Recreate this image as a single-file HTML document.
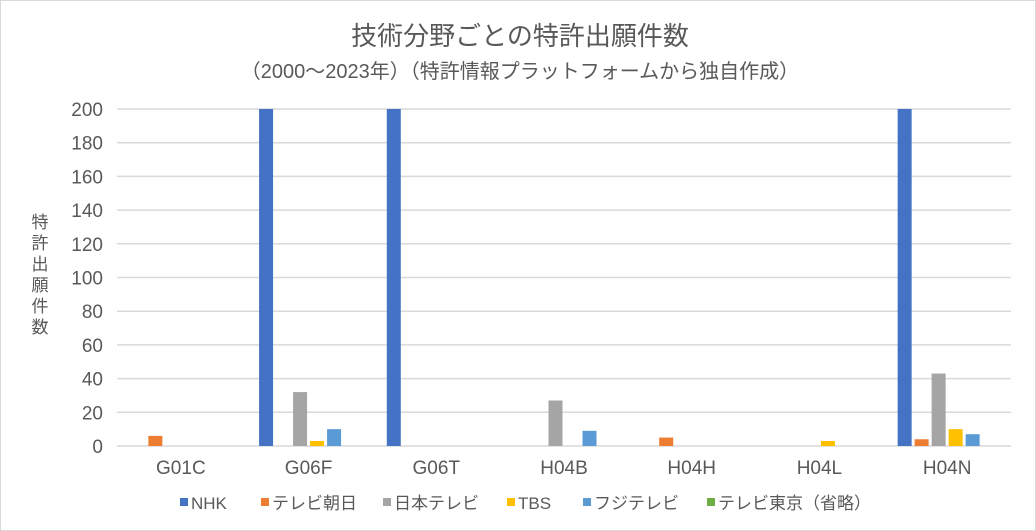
<!DOCTYPE html>
<html><head><meta charset="utf-8"><style>
body{margin:0;background:#fff;font-family:"Liberation Sans","Noto Sans CJK JP",sans-serif;}
#wrap{position:relative;width:1036px;height:531px;overflow:hidden;}
</style></head><body>
<div id="wrap">
<svg id="chart" width="1036" height="531" xmlns="http://www.w3.org/2000/svg" style="font-family:'Liberation Sans','Noto Sans CJK JP',sans-serif">
<rect x="0.5" y="0.5" width="1035" height="530" fill="#fff" stroke="#d9d9d9"/>
<text x="520" y="45" text-anchor="middle" font-size="26" fill="#595959">技術分野ごとの特許出願件数</text>
<text x="520" y="78" text-anchor="middle" font-size="20" fill="#595959">（2000～2023年）（特許情報プラットフォームから独自作成）</text>
<g id="grid"></g><g id="bars"></g><g id="xlabels"></g><g id="ylabels"></g>
<text font-size="17" fill="#595959" text-anchor="middle">
<tspan x="40" y="228">特</tspan><tspan x="40" y="249">許</tspan><tspan x="40" y="270">出</tspan><tspan x="40" y="291">願</tspan><tspan x="40" y="312">件</tspan><tspan x="40" y="333">数</tspan></text>
<g id="legend"></g>
</svg>
</div>
<script>
const categories=["G01C","G06F","G06T","H04B","H04H","H04L","H04N"];
const seriesNames=["NHK","テレビ朝日","日本テレビ","TBS","フジテレビ","テレビ東京（省略）"];
const nhk=[0,250,250,0,0,0,250];
const asahi=[6,0,0,0,5,0,4];
const ntv=[0,32,0,27,0,0,43];
const tbs=[0,3,0,0,0,3,10];
const fuji=[0,10,0,9,0,0,7];
const tokyo=[0,0,0,0,0,0,0];
const yTicks=[0,20,40,60,80,100,120,140,160,180,200];
const colors=["#4472c4","#ed7d31","#a5a5a5","#ffc000","#5b9bd5","#70ad47"];
const series=[nhk,asahi,ntv,tbs,fuji,tokyo];
const NS="http://www.w3.org/2000/svg";
const x0=117,x1=1011,y0=446,yTop=109,yMax=200;
const cw=(x1-x0)/categories.length;
function yScale(v){return y0-(Math.min(v,yMax)/yMax)*(y0-yTop);}
function xCat(i){return x0+cw*i+cw/2;}
const grid=document.getElementById('grid'),ylab=document.getElementById('ylabels');
yTicks.forEach(t=>{
 const l=document.createElementNS(NS,'line');
 l.setAttribute('x1',x0);l.setAttribute('x2',x1);l.setAttribute('y1',yScale(t));l.setAttribute('y2',yScale(t));
 l.setAttribute('stroke','#d9d9d9');l.setAttribute('stroke-width','1.5');
 
 
 grid.appendChild(l);
 const tx=document.createElementNS(NS,'text');
 tx.setAttribute('x',103);tx.setAttribute('y',yScale(t)+7);tx.setAttribute('text-anchor','end');
 tx.setAttribute('font-size','19');tx.setAttribute('fill','#595959');tx.textContent=t;
 
 
 ylab.appendChild(tx);
});
const bars=document.getElementById('bars'),xl=document.getElementById('xlabels');
const bw=14,step=17;
categories.forEach((c,i)=>{
 const start=xCat(i)-(step*series.length-3)/2;
 series.forEach((s,j)=>{
  const v=s[i]; if(v<=0) return;
  const r=document.createElementNS(NS,'rect');
  r.setAttribute('x',start+j*step);r.setAttribute('width',bw);
  r.setAttribute('y',yScale(v));r.setAttribute('height',y0-yScale(v));
  r.setAttribute('fill',colors[j]);
  
  
  bars.appendChild(r);
 });
 const t=document.createElementNS(NS,'text');
 t.setAttribute('x',xCat(i));t.setAttribute('y',474);t.setAttribute('text-anchor','middle');
 t.setAttribute('font-size','19');t.setAttribute('fill','#595959');t.textContent=c;
 
 
 xl.appendChild(t);
});
const lg=document.getElementById('legend');
const lx=[180,261,383,507,583,707];
seriesNames.forEach((n,j)=>{
 const g=document.createElementNS(NS,'g');
 
 
 const r=document.createElementNS(NS,'rect');
 r.setAttribute('x',lx[j]);r.setAttribute('y',498);r.setAttribute('width',8);r.setAttribute('height',8);r.setAttribute('fill',colors[j]);
 const t=document.createElementNS(NS,'text');
 t.setAttribute('x',lx[j]+11);t.setAttribute('y',509);t.setAttribute('font-size','17');t.setAttribute('fill','#595959');t.textContent=n;
 g.appendChild(r);g.appendChild(t);lg.appendChild(g);
});
</script>
</body></html>
